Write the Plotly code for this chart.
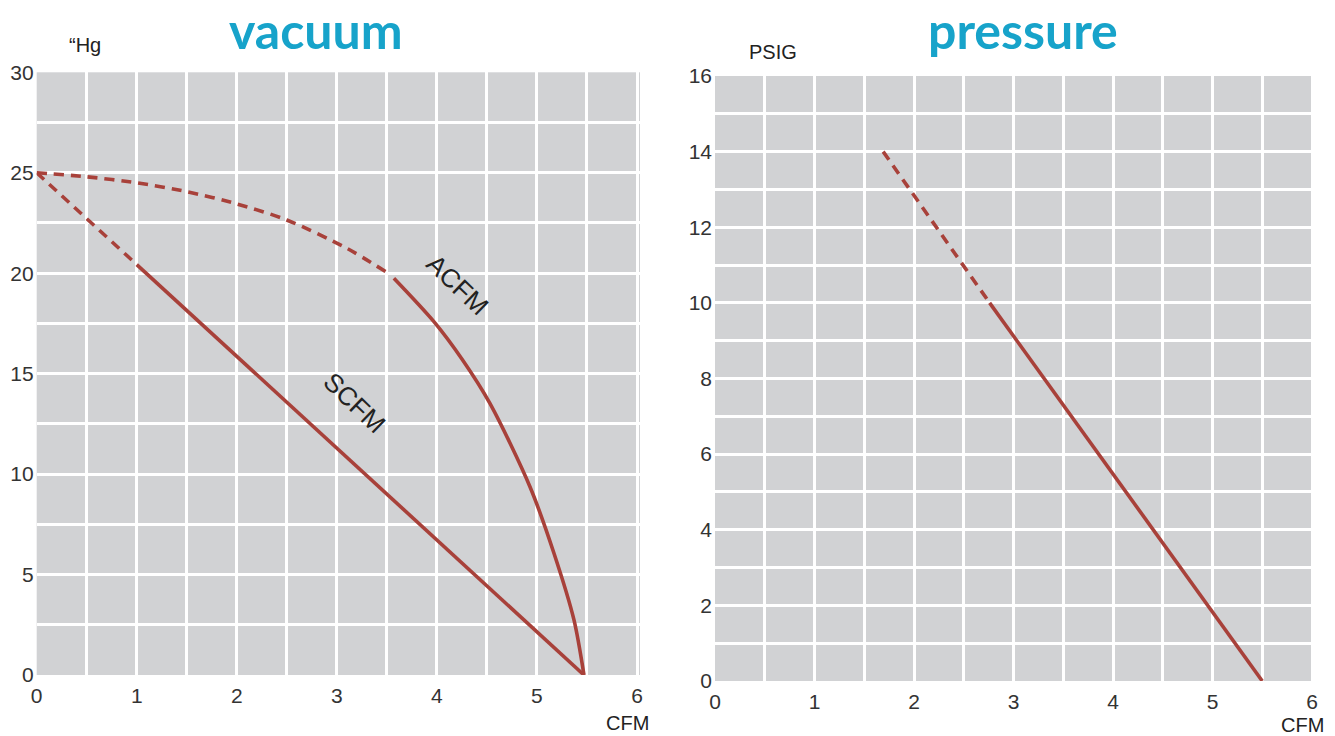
import plotly.graph_objects as go

# ---- data ----
acfm_dash_x = [0, 0.5, 1.0, 1.5, 2.0, 2.5, 3.1, 3.49]
acfm_dash_y = [25, 24.8, 24.5, 24.06, 23.45, 22.65, 21.24, 20.07]
acfm_x = [3.57, 3.97, 4.25, 4.53, 4.93, 5.17, 5.37, 5.47]
acfm_y = [19.75, 17.59, 15.73, 13.52, 9.37, 6.06, 2.74, 0.0]
scfm_dash_x = [0, 1.0]
scfm_dash_y = [25, 20.43]
scfm_x = [1.0, 5.47]
scfm_y = [20.43, 0.0]
pres_dash_x = [1.69, 2.76]
pres_dash_y = [14, 10]
pres_x = [2.76, 5.5]
pres_y = [10, 0]

vac_yticks = [0, 5, 10, 15, 20, 25, 30]
pres_yticks = [0, 2, 4, 6, 8, 10, 12, 14, 16]
cfm_ticks = [0, 1, 2, 3, 4, 5, 6]

RED = "#a8413a"
GRID = "white"
BG = "#d1d2d4"
W, H = 1335, 736

fig = go.Figure()

def add(x, y, xa, ya, dash):
    fig.add_trace(go.Scatter(x=x, y=y, mode="lines", xaxis=xa, yaxis=ya,
                             line=dict(color=RED, width=3.6, dash=dash, shape="spline", smoothing=0.8),
                             hoverinfo="skip", showlegend=False))

add(acfm_dash_x, acfm_dash_y, "x", "y", "10px,7px")
add(acfm_x, acfm_y, "x", "y", "solid")
add(scfm_dash_x, scfm_dash_y, "x", "y", "10px,7px")
add(scfm_x, scfm_y, "x", "y", "solid")
add(pres_dash_x, pres_dash_y, "x2", "y2", "10px,7px")
add(pres_x, pres_y, "x2", "y2", "solid")

tickfont = dict(family="Liberation Sans, Arial, sans-serif", size=21, color="#333333")

def xaxis(domain, anchor, rng):
    return dict(domain=domain, anchor=anchor, range=rng, tickvals=cfm_ticks,
                showgrid=True, gridcolor=GRID, gridwidth=2.5, zeroline=False,
                showline=False, ticks="", tickfont=tickfont, automargin=False,
                ticklabelstandoff=6,
                minor=dict(dtick=0.5, tick0=0, showgrid=True, gridcolor=GRID, gridwidth=2.5, ticks=""),
                fixedrange=True)

def yaxis(domain, anchor, rng, tv, minor):
    return dict(domain=domain, anchor=anchor, range=rng, tickvals=tv,
                showgrid=True, gridcolor=GRID, gridwidth=2.5, zeroline=False,
                showline=False, ticks="", tickfont=tickfont, automargin=False,
                ticklabelstandoff=2,
                minor=dict(dtick=minor, tick0=0, showgrid=True, gridcolor=GRID, gridwidth=2.5, ticks=""),
                fixedrange=True)

fig.update_layout(
    width=W, height=H,
    margin=dict(l=0, r=0, t=0, b=0),
    paper_bgcolor="white",
    plot_bgcolor=BG,
    template="none",
    xaxis=xaxis([36.7 / W, 640 / W], "y", [0, 6.03]),
    yaxis=yaxis([(H - 675) / H, (H - 72.3) / H], "x", [0, 30], vac_yticks, 2.5),
    xaxis2=xaxis([715 / W, 1314 / W], "y2", [0, 6.02]),
    yaxis2=yaxis([(H - 681) / H, (H - 76) / H], "x2", [0, 16], pres_yticks, 1),
)

def ann(text, px, py, size, color="#222222", family="Liberation Sans, Arial, sans-serif", **kw):
    fig.add_annotation(text=text, x=px / W, y=1 - py / H, xref="paper", yref="paper",
                       showarrow=False, xanchor="center", yanchor="middle",
                       font=dict(size=size, color=color, family=family), **kw)

title_font = "Lato, Open Sans, sans-serif"
ann("<b>vacuum</b>", 316, 30, 50, color="#17a3ca", family=title_font, borderpad=0)
ann("<b>pressure</b>", 1023, 30, 50, color="#17a3ca", family=title_font, borderpad=0)
ann("“Hg", 85, 45, 20)
ann("PSIG", 773, 52, 20)
ann("CFM", 627, 723, 20)
ann("CFM", 1302, 725, 20, borderpad=0)

fig.add_annotation(text="ACFM", x=4.21, y=19.43, xref="x", yref="y", showarrow=False,
                   textangle=44, font=dict(size=26, color="#222222", family="Liberation Sans, Arial, sans-serif"))
fig.add_annotation(text="SCFM", x=3.18, y=13.56, xref="x", yref="y", showarrow=False,
                   textangle=44, font=dict(size=26, color="#222222", family="Liberation Sans, Arial, sans-serif"))

fig.write_html("out.html", config={"displayModeBar": False},
               post_script="document.body.style.margin='0';document.body.style.overflow='hidden';")
